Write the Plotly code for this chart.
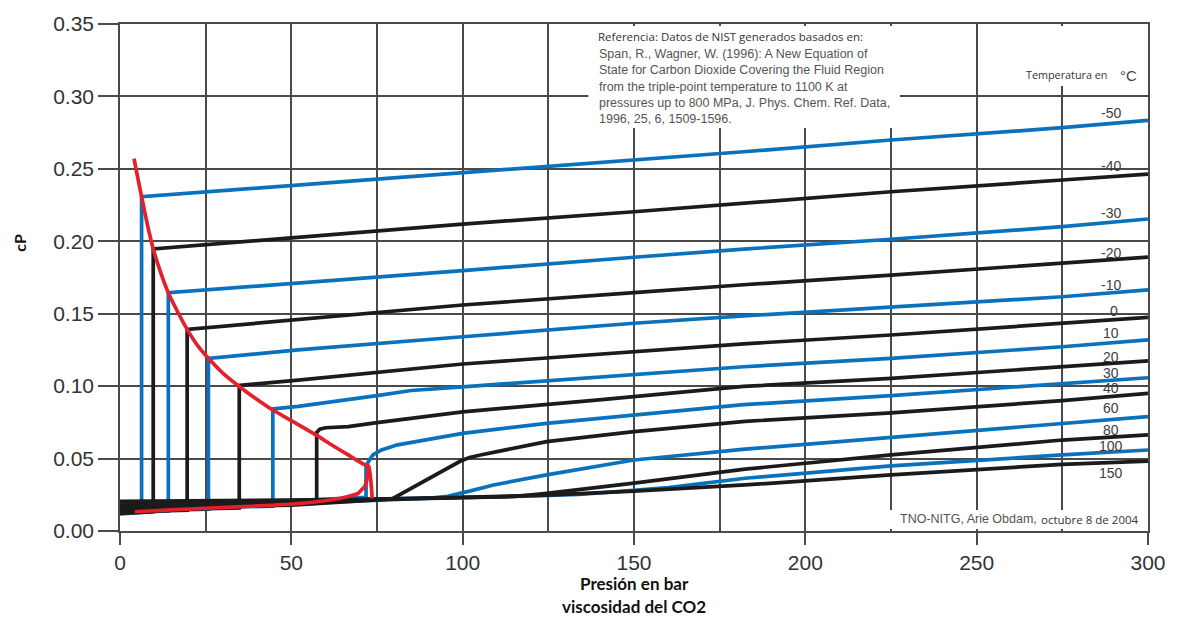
import plotly.graph_objects as go

# ---------------- data ----------------
# isotherm labels (°C) and colours alternate blue / black
TEMPS = ["-50", "-40", "-30", "-20", "-10", "0", "10", "20", "30", "40", "60", "80", "100", "150"]

P_M50 = [0, 6.3, 6.3, 52, 100, 150, 182, 225, 275, 300]
V_M50 = [0.0118, 0.0128, 0.2308, 0.2388, 0.2474, 0.2561, 0.2618, 0.2699, 0.2784, 0.2835]
P_M40 = [0, 9.7, 9.7, 52, 100, 150, 182, 225, 275, 300]
V_M40 = [0.0122, 0.0133, 0.1947, 0.2027, 0.2119, 0.2204, 0.2265, 0.2342, 0.2423, 0.2464]
P_M30 = [0, 14.1, 14.1, 52, 100, 150, 182, 225, 275, 300]
V_M30 = [0.0127, 0.0138, 0.1645, 0.171, 0.1797, 0.189, 0.1946, 0.2014, 0.2101, 0.2154]
P_M20 = [0, 19.6, 19.6, 52, 100, 150, 182, 225, 275, 300]
V_M20 = [0.0131, 0.0143, 0.1392, 0.1461, 0.156, 0.1645, 0.17, 0.1767, 0.1848, 0.189]
P_M10 = [0, 25.8, 25.8, 52, 100, 150, 182, 225, 275, 300]
V_M10 = [0.0136, 0.015, 0.1192, 0.125, 0.1341, 0.1434, 0.1485, 0.1544, 0.1617, 0.1664]
P_0 = [0, 34.8, 34.8, 52, 100, 150, 182, 225, 275, 300]
V_0 = [0.014, 0.016, 0.1005, 0.1042, 0.1153, 0.1238, 0.1292, 0.1353, 0.1434, 0.1475]
P_10 = [0, 44.6, 44.6, 52, 75, 85, 100, 150, 182, 225, 275, 300]
V_10 = [0.0145, 0.0172, 0.0842, 0.086, 0.0935, 0.097, 0.0995, 0.1077, 0.1134, 0.1192, 0.1272, 0.1319]
P_20 = [0, 57.4, 57.4, 58.3, 60, 66.6, 75, 100, 139, 182, 225, 275, 300]
V_20 = [0.015, 0.0192, 0.068, 0.0703, 0.0713, 0.072, 0.0748, 0.0822, 0.0904, 0.0998, 0.1054, 0.1134, 0.1174]
P_30 = [0, 71.8, 71.8, 72.2, 73.8, 76.3, 81, 86, 100, 124.5, 150, 182, 225, 275, 300]
V_30 = [0.0155, 0.0232, 0.0445, 0.0467, 0.0525, 0.056, 0.0595, 0.0617, 0.0674, 0.0743, 0.0798, 0.0872, 0.0935, 0.1013, 0.1058]
P_40 = [0, 50, 79.4, 99.4, 102, 105.2, 124.5, 150, 182.4, 225, 275, 300]
V_40 = [0.016, 0.0178, 0.0222, 0.0483, 0.0507, 0.0525, 0.0617, 0.0686, 0.0757, 0.0815, 0.09, 0.095]
P_60 = [0, 66.6, 90, 95.6, 102, 109, 124.5, 150, 182.4, 225, 275, 300]
V_60 = [0.0168, 0.0205, 0.0226, 0.024, 0.0275, 0.0318, 0.0387, 0.049, 0.0565, 0.0647, 0.0743, 0.079]
P_80 = [0, 66.6, 105, 115, 124.5, 150, 182.4, 225, 275, 300]
V_80 = [0.0178, 0.021, 0.0228, 0.0238, 0.026, 0.033, 0.0427, 0.0525, 0.0628, 0.0663]
P_100 = [0, 66.6, 110, 134, 160, 182.4, 225, 275, 300]
V_100 = [0.0188, 0.0213, 0.0235, 0.0252, 0.03, 0.0364, 0.0449, 0.0525, 0.0559]
P_150 = [0, 66.6, 100, 124.5, 150, 182.4, 225, 275, 300]
V_150 = [0.0205, 0.0216, 0.0233, 0.0248, 0.0275, 0.0318, 0.0387, 0.046, 0.0483]

# saturation dome (liquid branch, spike at critical point, vapour branch)
RED_P = [4.1, 5.0, 6.3, 8.0, 9.7, 12.0, 14.1, 17.0, 19.6, 22.5, 25.8, 30.0, 34.8, 40.0, 44.6, 50.0,
         57.4, 61.8, 66.6, 71.4, 72.5, 73.6, None,
         72.5, 72.1, 71.4, 70.5, 69.5, 66.0, 61.8, 52.1, 40.0, 25.1, 15.0, 4.3]
RED_V = [0.257, 0.246, 0.2308, 0.2115, 0.1947, 0.1775, 0.1645, 0.1505, 0.1392, 0.1285, 0.1192, 0.109,
         0.0998, 0.0908, 0.0835, 0.0762, 0.066, 0.0594, 0.0525, 0.0458, 0.0449, 0.0225, None,
         0.0449, 0.036, 0.0306, 0.0285, 0.026, 0.0235, 0.0216, 0.019, 0.0173, 0.0157, 0.0146, 0.0133]

# isotherm label positions at the right (value axis)
LABEL_Y = [0.2888, 0.252, 0.2197, 0.1921, 0.1698, 0.1521, 0.1365, 0.1203, 0.1093, 0.0985, 0.0847, 0.0697, 0.0587, 0.0402]

X_TICKS = [0, 50, 100, 150, 200, 250, 300]
Y_TICKS = [0.00, 0.05, 0.10, 0.15, 0.20, 0.25, 0.30, 0.35]

SERIES = [(P_M50, V_M50), (P_M40, V_M40), (P_M30, V_M30), (P_M20, V_M20), (P_M10, V_M10),
          (P_0, V_0), (P_10, V_10), (P_20, V_20), (P_30, V_30), (P_40, V_40), (P_60, V_60),
          (P_80, V_80), (P_100, V_100), (P_150, V_150)]

# ---------------- styling ----------------
W, H = 1178, 617
L, R, T, B = 120, 22, 24, 86
BLUE = "#0a72bc"
BLACK = "#1b1b1b"
RED = "#e4202b"
GRID = "#4a4a4a"

def px_x(px):
    return (px - L) / (W - L - R) * 300

def px_y(py):
    return (H - B - py) / (H - T - B) * 0.35

fig = go.Figure()

# draw blue first then black so the dense bottom band reads black
order = [i for i in range(len(SERIES)) if i % 2 == 0] + [i for i in range(len(SERIES)) if i % 2 == 1]
for i in order:
    p, v = SERIES[i]
    fig.add_trace(go.Scatter(x=p, y=v, mode="lines", name=TEMPS[i] + " °C",
                             line=dict(color=BLUE if i % 2 == 0 else BLACK, width=3.7),
                             hoverinfo="skip"))

fig.add_trace(go.Scatter(x=RED_P, y=RED_V, mode="lines", name="saturación",
                         line=dict(color=RED, width=3.7, shape="spline", smoothing=0.6),
                         connectgaps=False, hoverinfo="skip"))

shapes = [
    # white backgrounds behind the text blocks (between grid and traces)
    dict(type="rect", xref="x", yref="y", x0=px_x(592), x1=px_x(906), y0=px_y(128), y1=px_y(26),
         fillcolor="white", line=dict(width=0), layer="between"),
    dict(type="rect", xref="x", yref="y", x0=px_x(1030), x1=px_x(1153), y0=px_y(86), y1=px_y(26),
         fillcolor="white", line=dict(width=0), layer="between"),
    dict(type="rect", xref="x", yref="y", x0=px_x(884), x1=px_x(1153), y0=px_y(529), y1=px_y(510),
         fillcolor="white", line=dict(width=0), layer="between"),
]

LBL_FONT = dict(family="Liberation Sans, Arial, sans-serif", size=14, color="#3c3c3c")
annotations = []
for t, y in zip(TEMPS, LABEL_Y):
    annotations.append(dict(x=px_x(1119 if t != "0" else 1122), y=y, xref="x", yref="y", text=t,
                            showarrow=False, xanchor="center", yanchor="middle", font=LBL_FONT))

annotations += [
    dict(x=px_x(1117), y=px_y(74), xref="x", yref="y", text="Temperatura en",
         showarrow=False, xanchor="right", yanchor="middle",
         font=dict(family="Open Sans, sans-serif", size=10.8, color="#333")),
    dict(x=px_x(1126), y=px_y(75), xref="x", yref="y", text="°C",
         showarrow=False, xanchor="left", yanchor="middle",
         font=dict(family="Liberation Sans, Arial, sans-serif", size=15, color="#444")),
    dict(x=px_x(600), y=px_y(36), xref="x", yref="y", text="Referencia: Datos de NIST generados basados en:",
         showarrow=False, xanchor="left", yanchor="middle",
         font=dict(family="Open Sans, sans-serif", size=11.5, color="#333")),
    dict(x=px_x(601), y=px_y(45), xref="x", yref="y",
         text="Span, R., Wagner, W. (1996): A New Equation of<br>"
              "State for Carbon Dioxide Covering the Fluid Region<br>"
              "from the triple-point temperature to 1100 K at<br>"
              "pressures up to 800 MPa, J. Phys. Chem. Ref. Data,<br>"
              "1996, 25, 6, 1509-1596.",
         showarrow=False, xanchor="left", yanchor="top", align="left",
         font=dict(family="Liberation Sans, Arial, sans-serif", size=12.5, color="#555")),
    dict(x=px_x(1046), y=px_y(519), xref="x", yref="y", text="TNO-NITG, Arie Obdam,",
         showarrow=False, xanchor="right", yanchor="middle",
         font=dict(family="Liberation Sans, Arial, sans-serif", size=12.5, color="#555")),
    dict(x=px_x(1149), y=px_y(519), xref="x", yref="y", text="octubre 8 de 2004",
         showarrow=False, xanchor="right", yanchor="middle",
         font=dict(family="Open Sans, sans-serif", size=11.5, color="#333")),
    dict(x=0.5, y=(H - B - 583) / (H - T - B), xref="paper", yref="paper", text="<b>Presión en bar</b>",
         showarrow=False, xanchor="center", yanchor="middle",
         font=dict(family="Lato, sans-serif", size=17, color="#111")),
    dict(x=0.5, y=(H - B - 607) / (H - T - B), xref="paper", yref="paper", text="<b>viscosidad del CO2</b>",
         showarrow=False, xanchor="center", yanchor="middle",
         font=dict(family="Lato, sans-serif", size=17, color="#111")),
    dict(x=(18 - L) / (W - L - R), y=(H - B - 243) / (H - T - B), xref="paper", yref="paper",
         text="<b>cP</b>", textangle=-90, showarrow=False, xanchor="center", yanchor="middle",
         font=dict(family="Lato, sans-serif", size=16, color="#111")),
]

TICK_FONT = dict(family="Liberation Sans, Arial, sans-serif", size=21, color="#333")

fig.update_layout(
    width=W, height=H,
    margin=dict(l=L, r=R, t=T, b=B),
    paper_bgcolor="white", plot_bgcolor="white",
    showlegend=False,
    shapes=shapes,
    annotations=annotations,
    xaxis=dict(range=[0, 300], tickvals=X_TICKS, ticktext=[str(v) for v in X_TICKS],
               showgrid=True, gridcolor=GRID, gridwidth=1.6,
               minor=dict(dtick=25, tick0=0, showgrid=True, gridcolor=GRID, gridwidth=1.6, ticks=""),
               ticks="outside", ticklen=12, tickwidth=1.6, tickcolor=GRID,
               showline=True, linecolor=GRID, linewidth=1.6, mirror=True,
               zeroline=False, tickfont=TICK_FONT),
    yaxis=dict(range=[0, 0.35], tickvals=Y_TICKS, ticktext=["%.2f" % v for v in Y_TICKS],
               showgrid=True, gridcolor=GRID, gridwidth=1.6,
               ticks="outside", ticklen=20, tickwidth=1.6, tickcolor=GRID,
               showline=True, linecolor=GRID, linewidth=1.6, mirror=True,
               zeroline=False, tickfont=TICK_FONT),
)

fig.write_html("out.html")
